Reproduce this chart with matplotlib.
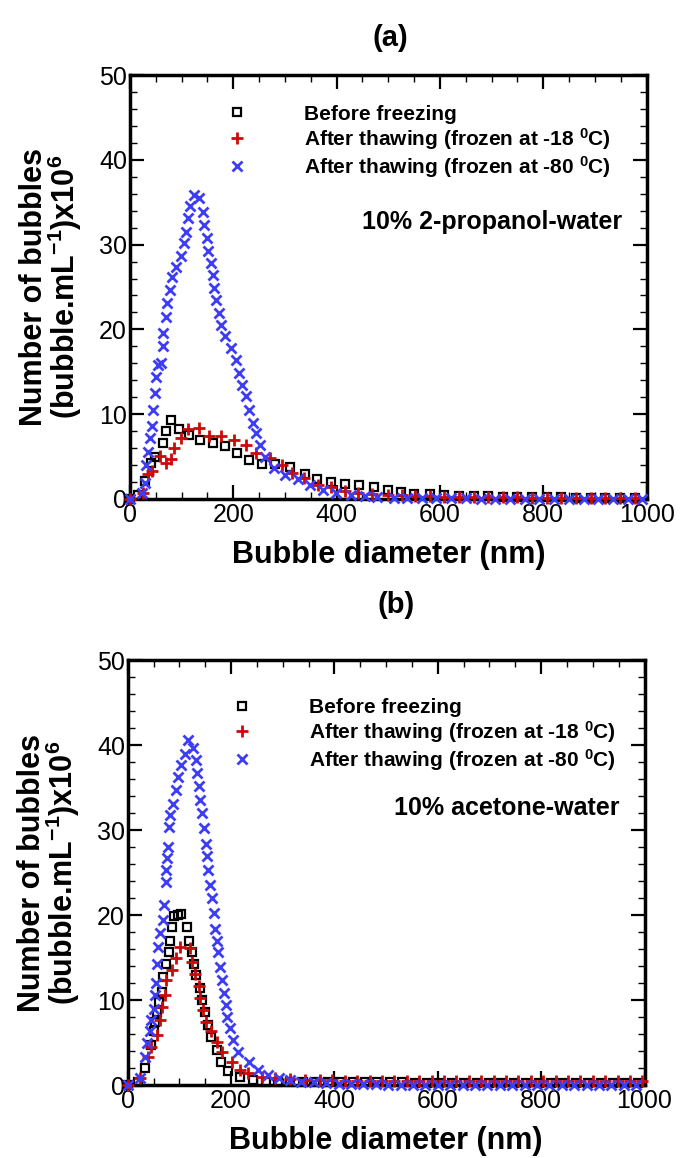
import numpy as np
import matplotlib
matplotlib.use('Agg')
import matplotlib.pyplot as plt
from matplotlib.ticker import MultipleLocator

# Fonts
plt.rcParams['font.family'] = 'Liberation Sans'
plt.rcParams['mathtext.fontset'] = 'custom'
plt.rcParams['mathtext.rm'] = 'Liberation Sans'
plt.rcParams['mathtext.bf'] = 'Liberation Sans:bold'
plt.rcParams['mathtext.default'] = 'regular'

# ---- Data (a) 10% 2-propanol-water ----
a_black_x = [0, 15, 29, 40, 48, 64, 70, 80, 96, 115, 136, 160, 185, 208, 230, 256, 281, 310, 339, 363,
             390, 417, 444, 472, 500, 525, 550, 580, 608, 637, 665, 693, 722, 750, 778, 807, 835, 863,
             892, 920, 948, 977]
a_black_y = [0, 0.5, 2.1, 4.2, 5.0, 6.6, 8.0, 9.3, 8.2, 7.5, 7.0, 6.6, 6.2, 5.4, 4.6, 4.1, 4.1, 3.8, 3.0, 2.4,
             2.0, 1.8, 1.6, 1.4, 1.1, 0.8, 0.6, 0.55, 0.45, 0.4, 0.3, 0.3, 0.25, 0.25, 0.2, 0.2, 0.2, 0.15,
             0.15, 0.15, 0.1, 0.1]

a_red_x = [0, 26, 35, 42, 58, 70, 80, 86, 99, 112, 134, 153, 176, 201, 225, 244, 272, 294, 314, 337,
           364, 390, 417, 441, 468, 500, 527, 551, 580, 608, 637, 665, 693, 722, 750, 778, 807, 835,
           863, 892, 920, 948, 977]
a_red_y = [0, 0.7, 2.9, 3.3, 5.1, 4.2, 4.7, 6.0, 7.2, 8.3, 8.4, 7.4, 7.4, 7.0, 6.4, 5.4, 4.8, 4.0, 3.05, 2.5,
           1.7, 1.4, 1.0, 0.7, 0.6, 0.5, 0.45, 0.3, 0.3, 0.25, 0.25, 0.2, 0.2, 0.2, 0.2, 0.15, 0.15, 0.15,
           0.15, 0.1, 0.1, 0.1, 0.1]

a_blue_x = [0, 24, 29, 31, 35, 38, 42, 45, 48, 50, 54, 61, 64, 65, 70, 72, 77, 82, 90, 99,
            105, 109, 112, 116, 125, 134, 141, 144, 149, 152, 157, 161, 163, 167, 173, 176, 184, 196, 205, 212,
            217, 224, 231, 238, 244, 252, 262, 278, 300, 326, 348, 374, 399, 428, 454, 479, 511, 537, 565, 593,
            622, 650, 679, 707, 736, 764, 792, 821, 849, 878, 906, 934, 963, 991]
a_blue_y = [0, 0.7, 1.9, 4.0, 5.6, 7.2, 8.6, 10.5, 12.5, 14.4, 15.8, 16.0, 18.0, 19.6, 21.5, 23.1, 24.7, 26.2, 27.4, 28.6,
            30.2, 31.5, 33.1, 34.5, 35.9, 35.5, 33.9, 32.3, 30.8, 29.2, 27.8, 26.4, 24.9, 23.5, 21.9, 20.5, 19.2, 17.8, 16.4, 14.8,
            13.5, 12.1, 10.5, 9.0, 7.8, 6.4, 5.0, 3.6, 2.8, 2.3, 1.7, 1.1, 0.7, 0.5, 0.3, 0.2, 0.1, 0.1, 0.1, 0.1,
            0.1, 0.1, 0.05, 0.05, 0.05, 0.05, 0.05, 0.05, 0.05, 0.05, 0.05, 0.05, 0.05, 0.05]

# ---- Data (b) 10% acetone-water ----
b_black_x = [0, 20, 33, 46, 50, 53, 56, 61, 66, 69, 74, 79, 82, 85, 90, 98, 104, 114, 119, 124,
             128, 132, 139, 143, 150, 156, 162, 172, 180, 195, 217, 243, 267, 291, 315, 339, 363, 387, 411, 435,
             459, 483, 507, 531, 555, 579, 603, 627, 651, 675, 699, 723, 747, 771, 795, 819, 843, 867, 891, 915,
             939, 963, 987]
b_black_y = [0, 0.3, 2.0, 4.7, 6.3, 7.45, 8.6, 9.8, 11.0, 12.7, 14.3, 15.7, 17.0, 18.6, 19.9, 20.0, 20.1, 18.6, 17.0, 15.6,
             14.3, 12.9, 11.4, 10.0, 8.6, 7.05, 5.7, 4.1, 2.7, 1.7, 1.0, 0.6, 0.4, 0.35, 0.3, 0.3, 0.3, 0.3, 0.3, 0.3,
             0.3, 0.3, 0.3, 0.3, 0.25, 0.25, 0.25, 0.25, 0.25, 0.25, 0.25, 0.25, 0.25, 0.25, 0.2, 0.2, 0.2, 0.2, 0.2, 0.2,
             0.2, 0.2, 0.2]

b_red_x = [0, 24, 40, 46, 57, 62, 66, 72, 74, 85, 93, 102, 121, 124, 130, 137, 140, 145, 151, 161,
           172, 182, 201, 217, 233, 259, 285, 314, 343, 372, 396, 420, 444, 468, 492, 516, 540, 564, 588, 612,
           636, 660, 684, 708, 732, 756, 780, 804, 828, 852, 876, 900, 924, 948, 972, 996]
b_red_y = [0, 0.8, 3.3, 4.5, 5.9, 7.65, 9.2, 10.6, 12.4, 13.5, 14.9, 16.3, 16.1, 14.5, 13.1, 11.6, 10.2, 8.8, 7.45, 6.3,
           5.1, 3.9, 2.7, 1.8, 1.4, 1.0, 0.8, 0.75, 0.65, 0.6, 0.55, 0.5, 0.5, 0.5, 0.5, 0.5, 0.5, 0.5, 0.5, 0.5,
           0.45, 0.45, 0.45, 0.45, 0.45, 0.45, 0.45, 0.45, 0.45, 0.45, 0.45, 0.45, 0.45, 0.45, 0.45, 0.45]

b_blue_x = [0, 24, 34, 37, 43, 46, 50, 53, 55, 57, 59, 63, 68, 70, 74, 75, 77, 78, 79, 81,
            87, 94, 98, 103, 111, 117, 127, 132, 135, 137, 140, 143, 148, 152, 154, 156, 159, 163, 167, 169,
            172, 174, 179, 182, 186, 190, 193, 198, 204, 214, 234, 253, 272, 292, 314, 336, 360, 384, 408, 432,
            456, 480, 504, 528, 552, 576, 600, 624, 648, 672, 696, 720, 744, 768, 792, 816, 840, 864, 888, 912,
            936, 960, 984]
b_blue_y = [0, 0.8, 3.3, 4.9, 6.3, 7.65, 9.0, 10.6, 12.0, 14.3, 16.3, 17.9, 19.4, 21.2, 23.9, 25.3, 26.7, 28.0, 30.4, 31.8,
            33.1, 34.7, 36.3, 37.6, 39.0, 40.6, 39.6, 38.2, 36.7, 35.2, 33.5, 32.0, 30.2, 28.4, 26.9, 25.3, 23.5, 22.0, 20.2, 18.4,
            17.0, 15.7, 13.9, 12.4, 10.8, 9.4, 8.0, 6.7, 5.3, 3.9, 2.7, 1.8, 1.2, 0.8, 0.6, 0.4, 0.3, 0.2, 0.1, 0.1,
            0.1, 0.1, 0.05, 0.05, 0.05, 0.05, 0.05, 0.05, 0.05, 0.05, 0.05, 0.05, 0.05, 0.05, 0.05, 0.05, 0.05, 0.05, 0.05, 0.05,
            0.05, 0.05, 0.05]

legend_labels = ['Before freezing',
                 'After thawing (frozen at -18 $^{0}$C)',
                 'After thawing (frozen at -80 $^{0}$C)']

black_col = 'black'
red_col = '#cc0a0a'
blue_col = '#3d3df5'


def draw_panel(ax, bx, by, rx, ry, ux, uy, sample, leg_x, leg_y, txt_y):
    ax.plot(bx, by, ls='none', marker='s', ms=6, mfc='none', mec=black_col, mew=1.6,
            clip_on=False, label=legend_labels[0], zorder=3)
    ax.plot(rx, ry, ls='none', marker='+', ms=9, color=red_col, mew=2,
            clip_on=False, label=legend_labels[1], zorder=3)
    ax.plot(ux, uy, ls='none', marker='x', ms=7.5, color=blue_col, mew=2,
            clip_on=False, label=legend_labels[2], zorder=3)

    ax.set_xlim(0, 1000)
    ax.set_ylim(0, 50)
    ax.set_xticks(np.arange(0, 1001, 200))
    ax.set_yticks(np.arange(0, 51, 10))
    ax.xaxis.set_minor_locator(MultipleLocator(50))
    ax.yaxis.set_minor_locator(MultipleLocator(2))
    ax.tick_params(which='both', direction='in', top=True, right=True, labelsize=18)
    ax.tick_params(axis='x', pad=3)
    ax.tick_params(axis='y', pad=2)
    ax.tick_params(which='major', length=10, width=1.6)
    ax.tick_params(which='minor', length=5, width=1.0)
    for sp in ax.spines.values():
        sp.set_linewidth(2.5)

    ax.set_xlabel('Bubble diameter (nm)', fontsize=22, fontweight='bold')
    ax.set_ylabel('Number of bubbles\n(bubble.mL$^{-1}$)x10$^{6}$', fontsize=22,
                  fontweight='bold', linespacing=0.9)
    ax.xaxis.set_label_coords(0.5, -0.097)
    ax.yaxis.set_label_coords(-0.088, 0.5)

    ax.legend(loc='upper left', bbox_to_anchor=(leg_x, leg_y), frameon=False,
              numpoints=1, handlelength=1.0, handletextpad=2.7, labelspacing=0.1,
              borderpad=0, borderaxespad=0, prop={'size': 15, 'weight': 'bold'})
    ax.text(0.952, txt_y, sample, transform=ax.transAxes, ha='right', va='center',
            fontsize=18, fontweight='bold')


fig = plt.figure(figsize=(6.8, 11.58), dpi=100)
ax1 = fig.add_axes([0.191, 0.5691, 0.760, 0.3661])
ax2 = fig.add_axes([0.1878, 0.0630, 0.760, 0.3670])

draw_panel(ax1, a_black_x, a_black_y, a_red_x, a_red_y, a_blue_x, a_blue_y,
           '10% 2-propanol-water', 0.188, 0.930, 0.653)
draw_panel(ax2, b_black_x, b_black_y, b_red_x, b_red_y, b_blue_x, b_blue_y,
           '10% acetone-water', 0.201, 0.911, 0.652)

fig.text(0.574, 1 - 38 / 1158, '(a)', ha='center', va='center', fontsize=21, fontweight='bold')
fig.text(0.582, 1 - 605 / 1158, '(b)', ha='center', va='center', fontsize=21, fontweight='bold')

plt.savefig('out.png', dpi=100)
